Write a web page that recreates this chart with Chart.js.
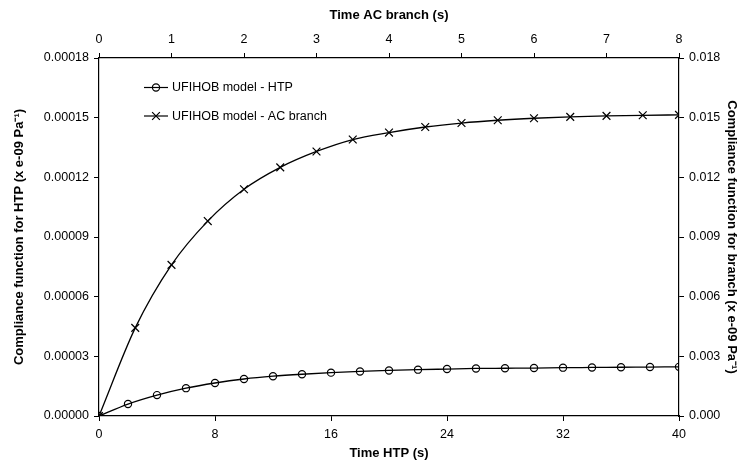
<!DOCTYPE html>
<html>
<head>
<meta charset="utf-8">
<title>Compliance function</title>
<script src="https://cdn.jsdelivr.net/npm/chart.js@4.4.0/dist/chart.umd.min.js"></script>
<style>
  html, body { margin: 0; padding: 0; background: #fff; }
  canvas { display: block; }
</style>
</head>
<body>
<canvas id="chart" width="740" height="463"></canvas>
<script>
// HTP series (bottom x axis, left y axis)
const htpTime = [0, 2, 4, 6, 8, 10, 12, 14, 16, 18, 20, 22, 24, 26, 28, 30, 32, 34, 36, 38, 40];
const htpCompliance = [0, 0.0000060, 0.0000105, 0.0000140, 0.0000166, 0.0000186, 0.0000200, 0.0000210,
  0.0000218, 0.0000224, 0.0000229, 0.0000233, 0.0000236, 0.0000239, 0.0000240, 0.0000241,
  0.0000243, 0.0000244, 0.0000245, 0.0000246, 0.0000247];

// AC branch series (top x axis, right y axis)
const acTime = [0, 0.5, 1, 1.5, 2, 2.5, 3, 3.5, 4, 4.5, 5, 5.5, 6, 6.5, 7, 7.5, 8];
const acCompliance = [0, 0.00443, 0.0076, 0.0098, 0.0114, 0.0125, 0.0133, 0.0139, 0.01425,
  0.01453, 0.01473, 0.01487, 0.01497, 0.01504, 0.01509, 0.01512, 0.01514];

const seriesNames = ['UFIHOB model - HTP', 'UFIHOB model - AC branch'];

// tick settings
const htpTicks = { min: 0, max: 40, step: 8 };
const acTicks = { min: 0, max: 8, step: 1 };
const leftTicks = { min: 0, max: 0.00018, step: 0.00003 };
const rightTicks = { min: 0, max: 0.018, step: 0.003 };

const FONT = '"Liberation Sans", Arial, sans-serif';
Chart.defaults.font.family = FONT;
Chart.defaults.color = '#000';

const toXY = (xs, ys) => xs.map((x, i) => ({ x: x, y: ys[i] }));

// simple legend drawn inside the plot area
const innerLegend = {
  id: 'innerLegend',
  afterDatasetsDraw(chart) {
    const ctx = chart.ctx;
    const rows = [87.5, 116];
    ctx.save();
    chart.data.datasets.forEach((ds, i) => {
      const y = rows[i];
      ctx.strokeStyle = '#000';
      ctx.lineWidth = 1.2;
      ctx.beginPath();
      ctx.moveTo(144, y);
      ctx.lineTo(168, y);
      ctx.stroke();
      ctx.fillStyle = 'rgba(0,0,0,0)';
      Chart.helpers.drawPoint(ctx, {
        pointStyle: ds.pointStyle,
        radius: ds.pointRadius,
        borderWidth: 1.2
      }, 156, y);
      ctx.fillStyle = '#000';
      ctx.font = '12.5px ' + FONT;
      ctx.textBaseline = 'middle';
      ctx.textAlign = 'left';
      ctx.fillText(ds.label, 172, y + 0.5);
    });
    ctx.restore();
  }
};

const axisGrid = { display: true, drawOnChartArea: false, drawTicks: true, tickLength: 5, color: '#000', lineWidth: 1 };
const axisBorder = { display: true, color: '#000', width: 1.2 };
const titleFont = { size: 13, weight: 'bold' };
const tickFont = { size: 12.5 };

new Chart(document.getElementById('chart'), {
  type: 'line',
  data: {
    datasets: [
      {
        label: seriesNames[0],
        data: toXY(htpTime, htpCompliance),
        xAxisID: 'x',
        yAxisID: 'y',
        borderColor: '#000',
        borderWidth: 1.3,
        pointStyle: 'circle',
        pointRadius: 3.6,
        pointBorderColor: '#000',
        pointBackgroundColor: 'rgba(0,0,0,0)',
        pointBorderWidth: 1.2,
        cubicInterpolationMode: 'monotone',
        fill: false
      },
      {
        label: seriesNames[1],
        data: toXY(acTime, acCompliance),
        xAxisID: 'x2',
        yAxisID: 'y2',
        borderColor: '#000',
        borderWidth: 1.3,
        pointStyle: 'crossRot',
        pointRadius: 5.5,
        pointBorderColor: '#000',
        pointBorderWidth: 1.2,
        cubicInterpolationMode: 'monotone',
        fill: false
      }
    ]
  },
  options: {
    responsive: false,
    devicePixelRatio: 1,
    animation: false,
    layout: { padding: 0 },
    plugins: {
      legend: { display: false },
      tooltip: { enabled: false }
    },
    scales: {
      x: {
        type: 'linear',
        position: 'bottom',
        min: htpTicks.min,
        max: htpTicks.max,
        ticks: { stepSize: htpTicks.step, padding: 6, font: tickFont, maxRotation: 0 },
        grid: axisGrid,
        border: axisBorder,
        title: { display: true, text: 'Time HTP (s)', font: titleFont, padding: { top: 0, bottom: 2 } },
        afterFit(scale) { scale.height = 47; }
      },
      x2: {
        type: 'linear',
        position: 'top',
        min: acTicks.min,
        max: acTicks.max,
        ticks: { stepSize: acTicks.step, padding: 6, font: tickFont, maxRotation: 0 },
        grid: axisGrid,
        border: axisBorder,
        title: { display: true, text: 'Time AC branch (s)', font: titleFont, padding: { top: 8, bottom: 0 } },
        afterFit(scale) { scale.height = 58; }
      },
      y: {
        type: 'linear',
        position: 'left',
        min: leftTicks.min,
        max: leftTicks.max,
        ticks: {
          stepSize: leftTicks.step,
          padding: 5,
          font: tickFont,
          callback: (v) => Number(v).toFixed(5)
        },
        grid: axisGrid,
        border: axisBorder,
        title: { display: true, text: 'Compliance function for HTP (x e-09 Pa⁻¹)', font: titleFont, padding: { top: 12, bottom: 0 } },
        afterFit(scale) { scale.width = 99; }
      },
      y2: {
        type: 'linear',
        position: 'right',
        min: rightTicks.min,
        max: rightTicks.max,
        ticks: {
          stepSize: rightTicks.step,
          padding: 5,
          font: tickFont,
          callback: (v) => Number(v).toFixed(3)
        },
        grid: axisGrid,
        border: axisBorder,
        title: { display: true, text: 'Compliance function for branch (x e-09 Pa⁻¹)', font: titleFont, padding: { top: 1, bottom: 0 } },
        afterFit(scale) { scale.width = 61; }
      }
    }
  },
  plugins: [innerLegend]
});
</script>
</body>
</html>
